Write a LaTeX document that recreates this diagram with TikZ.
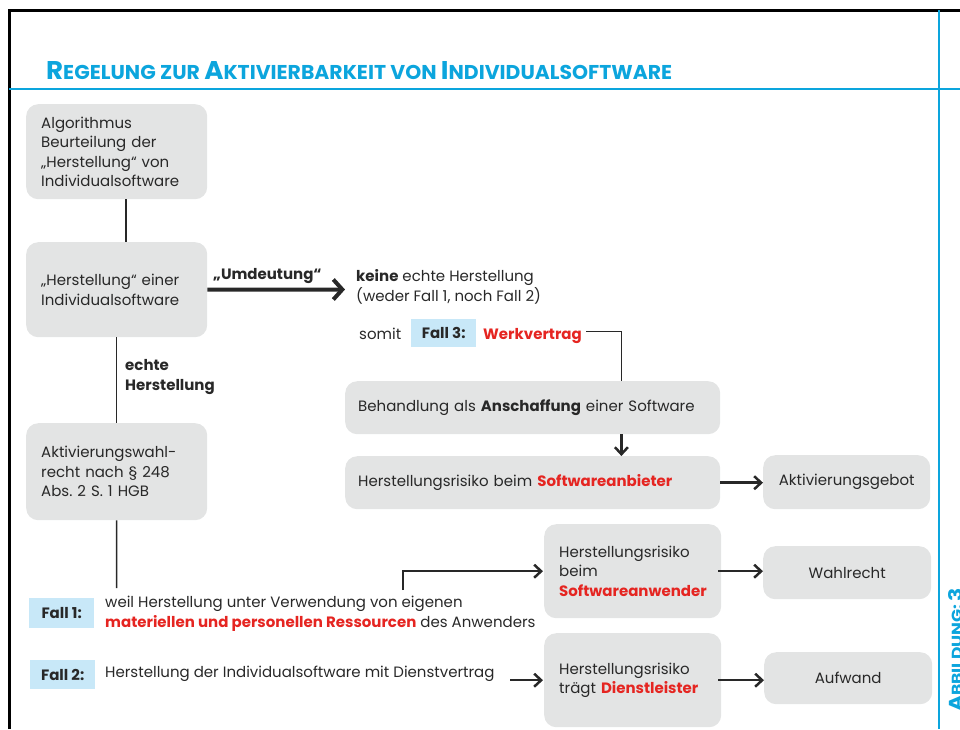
\documentclass[tikz,border=0pt]{standalone}
\usepackage{fontspec}
\setmainfont{Poppins}
\usetikzlibrary{arrows.meta}
\definecolor{boxgray}{RGB}{227,228,228}
\definecolor{fallblue}{RGB}{200,232,248}
\definecolor{titleblue}{RGB}{12,165,221}
\definecolor{hred}{RGB}{229,37,33}
\definecolor{textgray}{RGB}{40,40,40}
\newcommand\redbold[1]{\textcolor{hred}{\textbf{#1}}}
\newcommand\minorcaps[1]{{\fontsize{7.8}{9}\selectfont #1}}
\tikzset{>={Straight Barb[length=7pt,width=13pt]},
	lbox/.style={fill=boxgray, rounded corners=12pt, anchor=north west, align=left, inner xsep=15pt, inner ysep=0pt, text=textgray},
	cbox/.style={fill=boxgray, rounded corners=12pt, anchor=north west, align=center, inner sep=0pt, text=textgray},
	fallbox/.style={fill=fallblue, anchor=north west, inner sep=0pt, text=textgray},
	txt/.style={inner sep=0pt, align=left, text=textgray},
	conn/.style={line width=1.5pt, textgray},
	arr/.style={->, line width=2.5pt, textgray},
	bigarr/.style={-{Straight Barb[length=9pt,width=20pt]}, line width=4pt, textgray}}

\begin{document}
\frenchspacing
\fontsize{15}{19.5}\selectfont
\begin{tikzpicture}[x=1pt, y=-1pt]
	\useasboundingbox (0,0) rectangle (960,729);
	% frame and title
	\draw[line width=3pt] (9,729) -- (9,10) -- (960,10);
	\draw[titleblue, line width=1.2pt] (939,10) -- (939,729);
	\draw[titleblue, line width=1.2pt] (9,89) -- (960,89);
	\node (title) at (46,79) [anchor=base west, inner sep=0pt, text=titleblue] {\resizebox{626pt}{18pt}{\fontsize{10}{12}\selectfont\bfseries R\minorcaps{EGELUNG ZUR }A\minorcaps{KTIVIERBARKEIT VON }I\minorcaps{NDIVIDUALSOFTWARE}}};
	\node (abb) at (962,712) [rotate=90, anchor=base west, inner sep=0pt, text=titleblue] {\resizebox{124pt}{14pt}{\fontsize{10}{12}\selectfont\bfseries A\minorcaps{BBILDUNG: }3}};

	% left column
	\node[lbox, text width=151pt, minimum height=95pt] (algo) at (26,104) {Algorithmus\\Beurteilung der\\„Herstellung“ von\\Individualsoftware};
	\node[lbox, text width=151pt, minimum height=95pt] (herst) at (26,242) {„Herstellung“ einer\\Individualsoftware};
	\node[lbox, text width=151pt, minimum height=97pt] (aktiv) at (26,423) {Aktivierungswahl-\\recht nach § 248\\Abs. 2 S. 1 HGB};
	\draw[conn] ([xshift=9.5pt]algo.south) -- ([xshift=9.5pt]herst.north);
	\draw[conn] (herst.south) -- (aktiv.north);
	\node[txt, anchor=west] (echte) at (125,377) {\textbf{echte}\\\textbf{Herstellung}};
	\coordinate (aktivend) at (116.5,588);
	\draw[conn] (aktiv.south) -- (aktivend);

	% Umdeutung
	\coordinate (umdend) at (345,289.5);
	\draw[bigarr] (herst.east) -- (umdend);
	\node[txt, anchor=base west] (umdeut) at (213,279) {\textbf{„Umdeutung“}};
	\node[txt, anchor=west] (keine) at (356,287) {\textbf{keine} echte Herstellung\\(weder Fall 1, noch Fall 2)};
	\node[txt, anchor=base west] (somit) at (359,339) {somit};
	\node[fallbox, minimum width=65pt, minimum height=28pt] (fall3) at (411,319) {\textbf{Fall 3:}};
	\node[txt, anchor=base west] (werk) at (483,339) {\redbold{Werkvertrag}};

	% right column
	\node[lbox, inner xsep=13pt, text width=349pt, minimum height=53pt] (behand) at (345,381) {Behandlung als \textbf{Anschaffung} einer Software};
	\node[lbox, inner xsep=13pt, text width=349pt, minimum height=53pt] (anbieter) at (345,456) {Herstellungsrisiko beim \redbold{Softwareanbieter}};
	\node[cbox, minimum width=167pt, minimum height=54pt] (gebot) at (763,455) {Aktivierungsgebot};
	\node[lbox, text width=147pt, minimum height=94pt] (anwender) at (544,524) {Herstellungsrisiko\\beim\\\redbold{Softwareanwender}};
	\node[cbox, minimum width=168pt, minimum height=53pt] (wahl) at (763,546) {Wahlrecht};
	\node[lbox, text width=147pt, minimum height=94pt] (dienst) at (544,633) {Herstellungsrisiko\\trägt \redbold{Dienstleister}};
	\node[cbox, minimum width=168pt, minimum height=52pt] (aufwand) at (764,652) {Aufwand};
	\draw[conn] ([xshift=4pt,yshift=4pt]werk.east) -| ([xshift=-99pt]behand.north east);
	\draw[arr] ([xshift=-99pt]behand.south east) -- ([xshift=-99pt]anbieter.north east);
	\draw[arr] (anbieter.east) -- (anbieter.east -| gebot.west);
	\draw[arr] ([xshift=-3pt]anwender.east) -- (anwender.east -| wahl.west);
	\draw[arr] ([xshift=-3pt]dienst.east) -- (dienst.east -| aufwand.west);

	% Fall 1 and Fall 2
	\node[fallbox, minimum width=65pt, minimum height=30pt] (fall1) at (29,598) {\textbf{Fall 1:}};
	\node[txt, anchor=west] (weil) at (105,614) {weil Herstellung unter Verwendung von eigenen\\\redbold{materiellen und personellen Ressourcen} des Anwenders};
	\coordinate (f1start) at (403,590);
	\draw[arr] (f1start) |- ([xshift=-1pt]anwender.west);
	\node[fallbox, minimum width=65pt, minimum height=29pt] (fall2) at (30,660) {\textbf{Fall 2:}};
	\node[txt, anchor=west] (fall2txt) at (105,674) {Herstellung der Individualsoftware mit Dienstvertrag};
	\coordinate (f2start) at (510,679);
	\draw[arr] (f2start |- dienst.west) -- ([xshift=-1pt]dienst.west);
\end{tikzpicture}
\end{document}
